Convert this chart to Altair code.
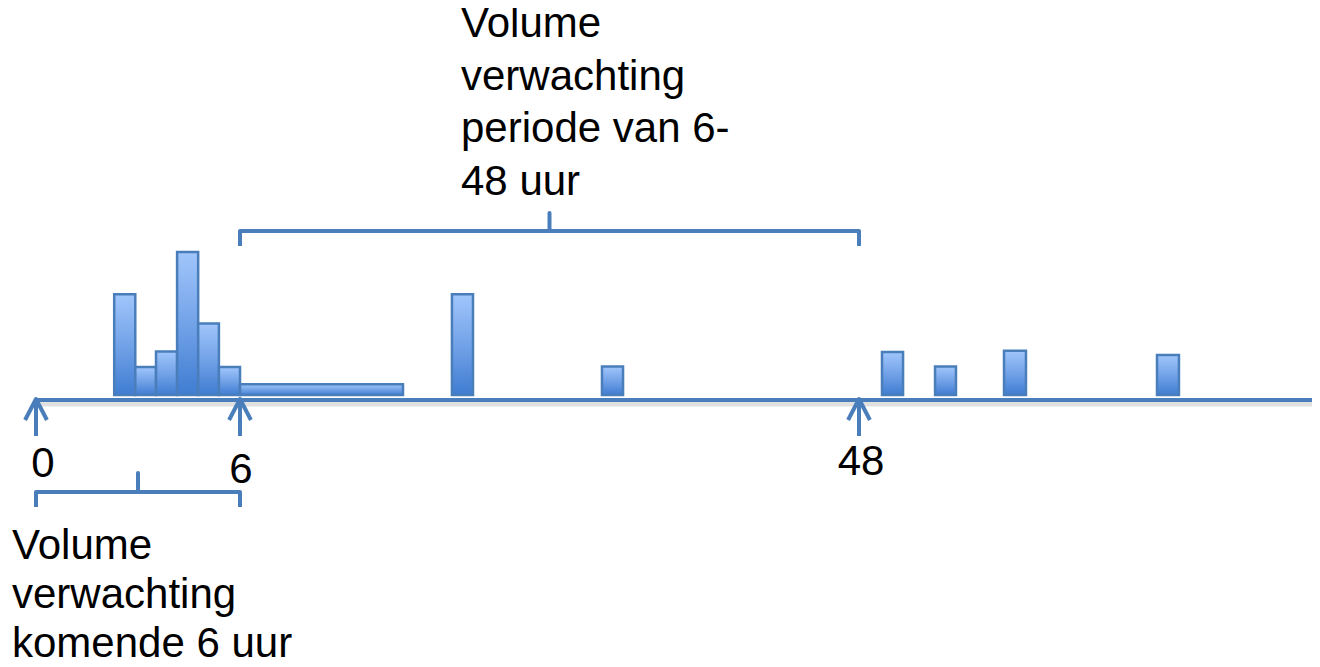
import altair as alt
import pandas as pd

# ---------------- data ----------------
# time in hours (schematic axis: 0, 6 and 48 h are the marked points)
bar_start = [2.3, 2.92, 3.53, 4.15, 4.77, 5.38, 6.0, 20.38, 30.56, 49.56, 53.16, 57.84, 68.22]
bar_end = [2.92, 3.53, 4.15, 4.77, 5.38, 6.0, 17.06, 21.81, 31.99, 50.99, 54.58, 59.33, 69.71]
bar_volume = [7.05, 1.95, 3.05, 10.0, 5.0, 1.95, 0.75, 7.05, 2.0, 3.0, 2.0, 3.1, 2.8]

marker_hours = [0, 6, 48]
marker_labels = ["0", "6", "48"]

brace_start = [0, 6]
brace_end = [6, 48]
brace_texts = [
    "Volume\nverwachting\nkomende 6 uur",
    "Volume\nverwachting\nperiode van 6-\n48 uur",
]
axis_hours = [0, 80]

# ---------------- layout / style ----------------
BLUE = "#4A7EBB"
FONT = "Liberation Sans"
FS = 42

X = alt.Scale(domain=[0, 6, 48], range=[28, 232, 851], nice=False, zero=False)
Y = alt.Scale(domain=[0, 10], range=[387, 244], nice=False, zero=False)

AXIS_Y = 392
ARROW_TIP = 391
ARROW_BOTTOM = 428
LABEL_Y = [469, 475, 467]
LABEL_DX = [7, 1, 2]
BRACE_Y = [484, 223]
BRACE_HOOK = 15
BRACE_NUB = [19, 18]
TEXT_X = [4, 453]
TEXT_Y = [551, 29]
TEXT_LH = [49, 52.7]

layers = []

# axis line shadow + line
axis_df = pd.DataFrame({"start": [axis_hours[0]], "end": [axis_hours[1]]})
layers.append(
    alt.Chart(axis_df).mark_rule(color="#000000", opacity=0.12, strokeWidth=5).encode(
        x=alt.X("start:Q", scale=X, axis=None), x2="end:Q", y=alt.value(AXIS_Y + 4)
    )
)

# bars
bars_df = pd.DataFrame({"start": bar_start, "end": bar_end, "volume": bar_volume})
grad = alt.LinearGradient(
    gradient="linear",
    stops=[
        alt.GradientStop(color="#A1C6FB", offset=0),
        alt.GradientStop(color="#6E9FE6", offset=0.55),
        alt.GradientStop(color="#3F7CD1", offset=1),
    ],
    x1=0, x2=0, y1=0, y2=1,
)
layers.append(
    alt.Chart(bars_df).mark_rect(fill=grad, stroke=BLUE, strokeWidth=2.5).encode(
        x=alt.X("start:Q", scale=X, axis=None),
        x2="end:Q",
        y=alt.Y("volume:Q", scale=Y, axis=None),
        y2=alt.datum(0),
    )
)

layers.append(
    alt.Chart(axis_df).mark_rule(color=BLUE, strokeWidth=4).encode(
        x=alt.X("start:Q", scale=X, axis=None), x2="end:Q", y=alt.value(AXIS_Y)
    )
)

# arrows
mk_df = pd.DataFrame({"h": marker_hours, "label": marker_labels})
layers.append(
    alt.Chart(mk_df).mark_rule(color=BLUE, strokeWidth=4).encode(
        x=alt.X("h:Q", scale=X, axis=None), y=alt.value(ARROW_TIP + 2), y2=alt.value(ARROW_BOTTOM)
    )
)
layers.append(
    alt.Chart(mk_df).mark_point(
        shape="M -0.52 1 L 0 0 L 0.52 1", filled=False, stroke=BLUE, strokeWidth=4,
        strokeJoin="round", size=1764, opacity=1,
    ).encode(x=alt.X("h:Q", scale=X, axis=None), y=alt.value(ARROW_TIP))
)

# marker labels
for i in range(len(marker_hours)):
    layers.append(
        alt.Chart(mk_df.iloc[[i]]).mark_text(
            font=FONT, fontSize=FS, color="black", align="center", baseline="alphabetic", dx=LABEL_DX[i]
        ).encode(x=alt.X("h:Q", scale=X, axis=None), y=alt.value(LABEL_Y[i]), text="label:N")
    )

# braces
for i in range(len(brace_start)):
    bdf = pd.DataFrame({"start": [brace_start[i]], "end": [brace_end[i]]})
    base = alt.Chart(bdf)
    y0 = BRACE_Y[i]
    layers.append(
        base.mark_rule(color=BLUE, strokeWidth=4, strokeCap="round").encode(
            x=alt.X("start:Q", scale=X, axis=None), x2="end:Q", y=alt.value(y0)
        )
    )
    for col in ["start", "end"]:
        layers.append(
            base.mark_rule(color=BLUE, strokeWidth=4, strokeCap="butt").encode(
                x=alt.X(f"{col}:Q", scale=X, axis=None), y=alt.value(y0), y2=alt.value(y0 + BRACE_HOOK)
            )
        )
    layers.append(
        base.transform_calculate(mid="(datum.start + datum.end) / 2")
        .mark_rule(color=BLUE, strokeWidth=4, strokeCap="round")
        .encode(x=alt.X("mid:Q", scale=X, axis=None), y=alt.value(y0), y2=alt.value(y0 - BRACE_NUB[i]))
    )
    tdf = pd.DataFrame({"t": [brace_texts[i]]})
    layers.append(
        alt.Chart(tdf).mark_text(
            font=FONT, fontSize=FS, color="black", align="left", baseline="alphabetic",
            lineBreak="\n", lineHeight=TEXT_LH[i],
        ).encode(x=alt.value(TEXT_X[i]), y=alt.value(TEXT_Y[i]), text="t:N")
    )

chart = (
    alt.layer(*layers)
    .properties(width=1304, height=659, padding=0, autosize="none", background="white")
    .configure_view(stroke=None)
)

chart.save("out.html", embed_options={"renderer": "svg", "actions": False})
